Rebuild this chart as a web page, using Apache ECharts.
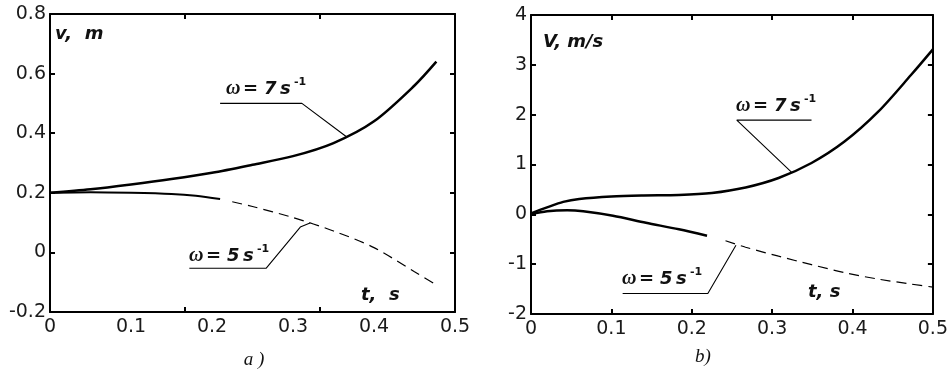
<!DOCTYPE html>
<html>
<head>
<meta charset="utf-8">
<script src="https://cdn.jsdelivr.net/npm/echarts@6/dist/echarts.min.js"></script>
<style>
  html, body { margin: 0; padding: 0; background: #fff; }
  #chart { width: 951px; height: 373px; }
</style>
</head>
<body>
<div id="chart"></div>
<script>
// panel a) displacement v(t), panel b) velocity V(t)
const xLabelValues = [0, 0.1, 0.2, 0.3, 0.4, 0.5];
const leftXTickValues = [0.5 / 3, 1 / 3]; // ticks of panel a) are not on the labels
const rightXTickValues = [0.1, 0.2, 0.3, 0.4];

// panel a)
const dispW7 = [[0, 0.2], [0.05, 0.212], [0.1, 0.228], [0.15, 0.246], [0.2, 0.267], [0.25, 0.294],
  [0.3, 0.323], [0.35, 0.367], [0.4, 0.44], [0.45, 0.56], [0.477, 0.64]];
const dispW5Solid = [[0, 0.2], [0.05, 0.202], [0.1, 0.2], [0.15, 0.196], [0.18, 0.19], [0.21, 0.179]];
const dispW5Dashed = [[0.225, 0.17], [0.25, 0.154], [0.3, 0.117], [0.35, 0.072], [0.4, 0.016],
  [0.45, -0.065], [0.477, -0.109]];

// panel b)
const velW7 = [[0, 0.02], [0.02, 0.14], [0.04, 0.25], [0.06, 0.31], [0.1, 0.36], [0.14, 0.38],
  [0.184, 0.39], [0.225, 0.43], [0.267, 0.54], [0.308, 0.73], [0.349, 1.03], [0.39, 1.46],
  [0.432, 2.06], [0.473, 2.8], [0.5, 3.31]];
const velW5Solid = [[0, 0], [0.02, 0.06], [0.045, 0.08], [0.065, 0.06], [0.102, -0.03], [0.143, -0.17],
  [0.184, -0.3], [0.219, -0.43]];
const velW5Dashed = [[0.242, -0.53], [0.267, -0.66], [0.308, -0.84], [0.349, -1.01], [0.39, -1.17],
  [0.432, -1.3], [0.473, -1.4], [0.5, -1.46]];

// leader lines of the omega labels (underline + pointer), in data units
const leadA7 = [[0.21, 0.5], [0.311, 0.5], [0.366, 0.388]];
const leadA5 = [[0.172, -0.053], [0.267, -0.053], [0.309, 0.085], [0.321, 0.099]];
const leadB7 = [[0.349, 1.89], [0.256, 1.89], [0.324, 0.847]];
const leadB5 = [[0.114, -1.59], [0.22, -1.59], [0.255, -0.62]];

const TICK_FONT = '"DejaVu Sans", sans-serif';
const LABEL_FONT = 'italic bold 18px "DejaVu Sans", sans-serif';
const OMEGA_FONT = 'italic bold 20px "Liberation Serif", serif';

function fmt(v) {
  return String(+v.toFixed(2));
}

function xAxis(grid, position, showLabel, ticks) {
  return {
    type: 'value', gridIndex: grid, position: position, min: 0, max: 0.5, interval: 0.1,
    axisLine: { show: true, onZero: false, lineStyle: { color: '#000', width: 2 } },
    axisTick: { show: true, inside: true, length: 5, customValues: ticks, lineStyle: { color: '#000', width: 2 } },
    axisLabel: {
      show: showLabel, customValues: xLabelValues, formatter: fmt, margin: 6,
      fontFamily: TICK_FONT, fontSize: 19, color: '#1a1a1a'
    },
    splitLine: { show: false }
  };
}

function yAxis(grid, position, showLabel, min, max, step) {
  return {
    type: 'value', gridIndex: grid, position: position, min: min, max: max, interval: step,
    axisLine: { show: true, onZero: false, lineStyle: { color: '#000', width: 2 } },
    axisTick: { show: true, inside: true, length: 5, lineStyle: { color: '#000', width: 2 } },
    axisLabel: { show: showLabel, formatter: fmt, margin: 4, fontFamily: TICK_FONT, fontSize: 19, color: '#1a1a1a' },
    splitLine: { show: false }
  };
}

function curve(xi, data, width, dashed) {
  return {
    type: 'line', xAxisIndex: xi, yAxisIndex: xi, data: data, smooth: 0.3,
    showSymbol: false, symbol: 'none', silent: true,
    lineStyle: { color: '#000', width: width, type: dashed ? [10, 6] : 'solid' }
  };
}

function lead(xi, data) {
  return {
    type: 'line', xAxisIndex: xi, yAxisIndex: xi, data: data, symbol: 'none', silent: true,
    lineStyle: { color: '#000', width: 1.1 }
  };
}

function txt(x, y, text, font, align) {
  return {
    type: 'text', x: x, y: y, silent: true,
    style: { text: text, font: font, fill: '#111', align: align || 'left', verticalAlign: 'middle' }
  };
}

// omega = N s^-1 label
function omega(x, y, n) {
  return [
    txt(x, y, 'ω', OMEGA_FONT),
    txt(x + 17, y, '=', 'bold 18px "DejaVu Sans", sans-serif'),
    txt(x + 38, y, n, LABEL_FONT),
    txt(x + 54, y, 's', LABEL_FONT),
    txt(x + 68, y - 7, '-1', 'bold 11px "DejaVu Sans", sans-serif')
  ];
}

const chart = echarts.init(document.getElementById('chart'));
chart.setOption({
  backgroundColor: '#fff',
  animation: false,
  grid: [
    { left: 50, top: 14, width: 405, height: 298 },
    { left: 531, top: 15, width: 404, height: 299 }
  ],
  xAxis: [
    xAxis(0, 'bottom', true, leftXTickValues),
    xAxis(0, 'top', false, leftXTickValues),
    xAxis(1, 'bottom', true, rightXTickValues),
    xAxis(1, 'top', false, rightXTickValues)
  ],
  yAxis: [
    yAxis(0, 'left', true, -0.2, 0.8, 0.2),
    yAxis(0, 'right', false, -0.2, 0.8, 0.2),
    yAxis(1, 'left', true, -2, 4, 1),
    yAxis(1, 'right', false, -2, 4, 1)
  ],
  series: [
    curve(0, dispW7, 2.5, false),
    curve(0, dispW5Solid, 2, false),
    curve(0, dispW5Dashed, 1.2, true),
    lead(0, leadA7),
    lead(0, leadA5),
    curve(2, velW7, 2.5, false),
    curve(2, velW5Solid, 2.5, false),
    curve(2, velW5Dashed, 1.2, true),
    lead(2, leadB7),
    lead(2, leadB5)
  ],
  graphic: [
    txt(55, 34, 'v,  m', LABEL_FONT),
    txt(361, 295, 't,  s', LABEL_FONT),
    txt(543, 42, 'V, m/s', LABEL_FONT),
    txt(808, 292, 't, s', LABEL_FONT),
    ...omega(226, 89, '7'),
    ...omega(189, 256, '5'),
    ...omega(736, 106, '7'),
    ...omega(622, 279, '5'),
    txt(254, 360, 'a )', 'italic 19px "Liberation Serif", serif', 'center'),
    txt(703, 357, 'b)', 'italic 19px "Liberation Serif", serif', 'center')
  ]
});
</script>
</body>
</html>
